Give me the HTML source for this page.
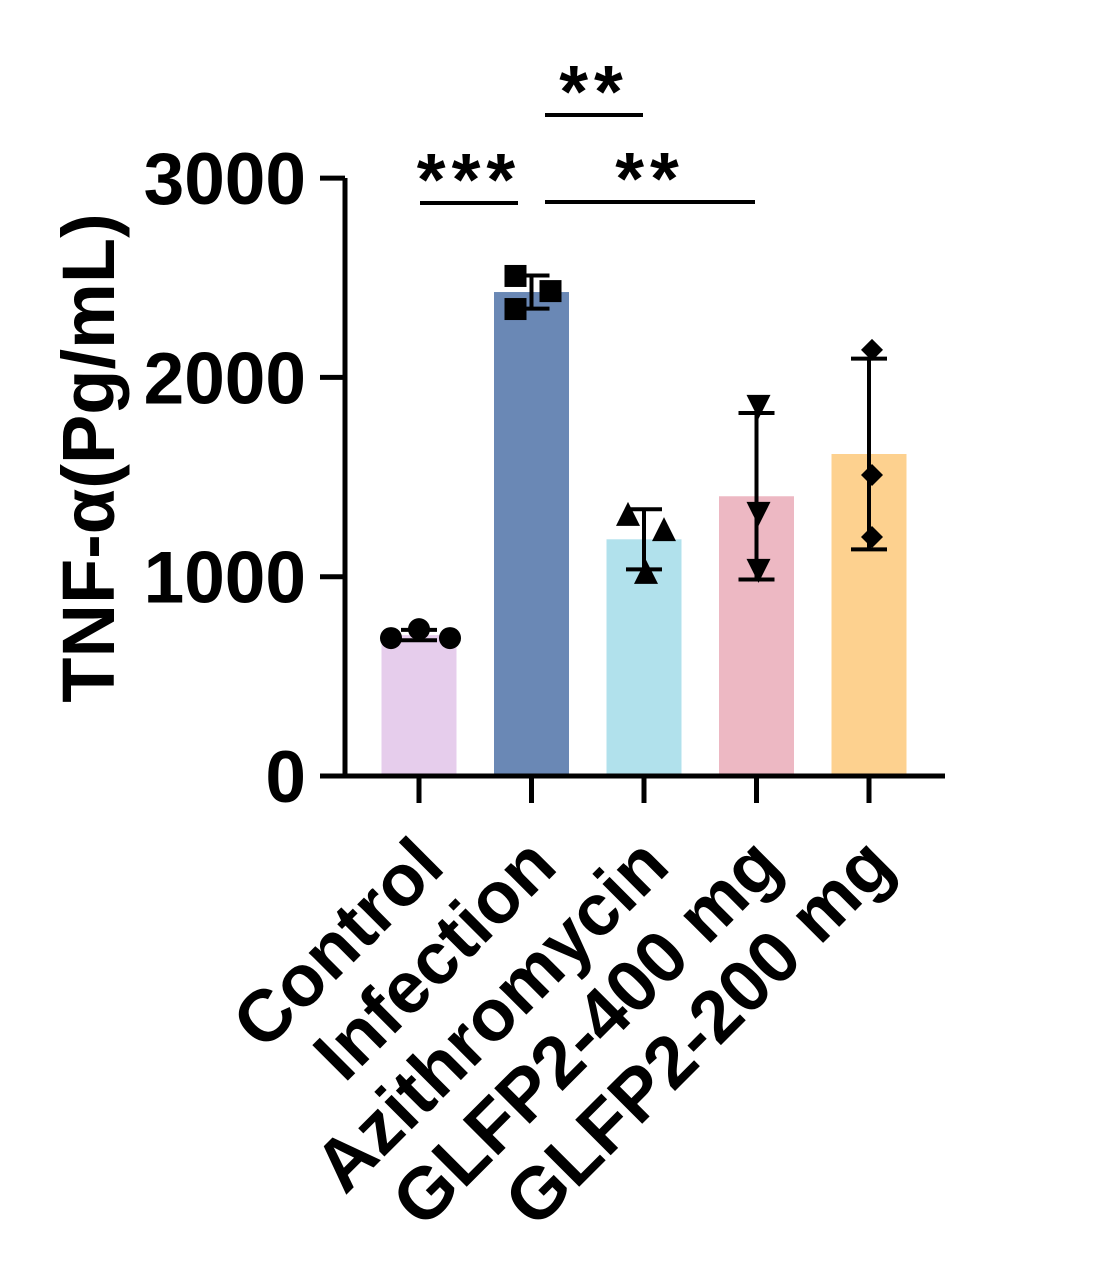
<!DOCTYPE html>
<html><head><meta charset="utf-8"><style>
body{margin:0;background:#fff}
svg{display:block;font-family:"Liberation Sans",Arial,sans-serif;font-weight:bold}
</style></head><body>
<svg width="1114" height="1278" viewBox="0 0 1114 1278">
<g id="plot"></g>
</svg>
<script>
const categories=["Control","Infection","Azithromycin","GLFP2-400 mg","GLFP2-200 mg"];
const pointsControl=[692,737,692];
const pointsInfection=[2509,2433,2343];
const pointsAzithro=[1310,1234,1019];
const pointsGLFP400=[1857,1320,1034];
const pointsGLFP200=[2138,1510,1199];
const yTicks=[0,1000,2000,3000];
const colors=["#e6cdec","#6a88b5","#b1e1ec","#edb8c3","#fdd18f"];
const markers=["circle","square","triangle","down","diamond"];
const jitter=[[-28,0,31],[-16,19,-16],[-16,20,2],[2,2,2],[3,3,3]];
const series=[pointsControl,pointsInfection,pointsAzithro,pointsGLFP400,pointsGLFP200];
const NS="http://www.w3.org/2000/svg";
const g=document.getElementById('plot');
const y0=776,pxPer=199.3/1000;
const Y=v=>y0-v*pxPer;
const X=i=>419+i*112.5;
function el(t,a,p){const e=document.createElementNS(NS,t);for(const k in a)e.setAttribute(k,a[k]);(p||g).appendChild(e);return e;}
series.forEach((pts,i)=>{
 const m=pts.reduce((a,b)=>a+b,0)/pts.length;
 const sd=Math.sqrt(pts.reduce((a,b)=>a+(b-m)*(b-m),0)/(pts.length-1));
 const b=el('rect',{x:X(i)-37.5,y:Y(m),width:75,height:y0-Y(m),fill:colors[i]});
 
 
 const cx=X(i);
 const eg=el('g',{stroke:'#000','stroke-width':4});
 
 
 el('line',{x1:cx,x2:cx,y1:Y(m+sd),y2:Y(m-sd)},eg);
 el('line',{x1:cx-18,x2:cx+18,y1:Y(m+sd),y2:Y(m+sd)},eg);
 el('line',{x1:cx-18,x2:cx+18,y1:Y(m-sd),y2:Y(m-sd)},eg);
 pts.forEach((v,j)=>{
  const px=cx+jitter[i][j],py=Y(v);let p;
  const s=11;
  if(markers[i]=="circle")p=el('circle',{cx:px,cy:py,r:s});
  else if(markers[i]=="square")p=el('rect',{x:px-s,y:py-s,width:2*s,height:2*s});
  else if(markers[i]=="triangle")p=el('polygon',{points:`${px},${py-s-2} ${px+s+1},${py+s} ${px-s-1},${py+s}`});
  else if(markers[i]=="down")p=el('polygon',{points:`${px},${py+s+2} ${px+s+1},${py-s} ${px-s-1},${py-s}`});
  else p=el('polygon',{points:`${px},${py-s} ${px+s},${py} ${px},${py+s} ${px-s},${py}`});
  p.setAttribute('fill','#000');
  
  
 });
 const t=el('line',{x1:cx,x2:cx,y1:y0,y2:y0+27,stroke:'#000','stroke-width':5});
 
 
 const ax_=cx+28,ay_=y0+93;
 const lb=el('text',{x:ax_,y:ay_,'text-anchor':'end','font-size':73,transform:`rotate(-45 ${ax_} ${ay_})`});
 lb.textContent=categories[i];
 
 
});
const ax=el('path',{d:`M345,178 V776 H945`,fill:'none',stroke:'#000','stroke-width':5});


yTicks.forEach(v=>{
 const t=el('line',{x1:320,x2:345,y1:Y(v),y2:Y(v),stroke:'#000','stroke-width':5});
 
 
 const l=el('text',{x:306,y:Y(v)+26,'text-anchor':'end','font-size':73});
 l.textContent=v;
 
 
});
const yt=el('text',{x:114,y:458,'text-anchor':'middle','font-size':74,transform:'rotate(-90 114 458)'});
yt.textContent='TNF-α(Pg/mL)';


const sigs=[[420,518,203,'***'],[545,755,202,'**'],[545,643,115,'**']];
sigs.forEach(s=>{
 const l=el('line',{x1:s[0],x2:s[1],y1:s[2],y2:s[2],stroke:'#000','stroke-width':4});
 
 
 const t=el('text',{x:(s[0]+s[1])/2,y:s[2]+2,'text-anchor':'middle','font-size':74,'letter-spacing':6});
 t.textContent=s[3];
 
 
});
</script>
</body></html>
